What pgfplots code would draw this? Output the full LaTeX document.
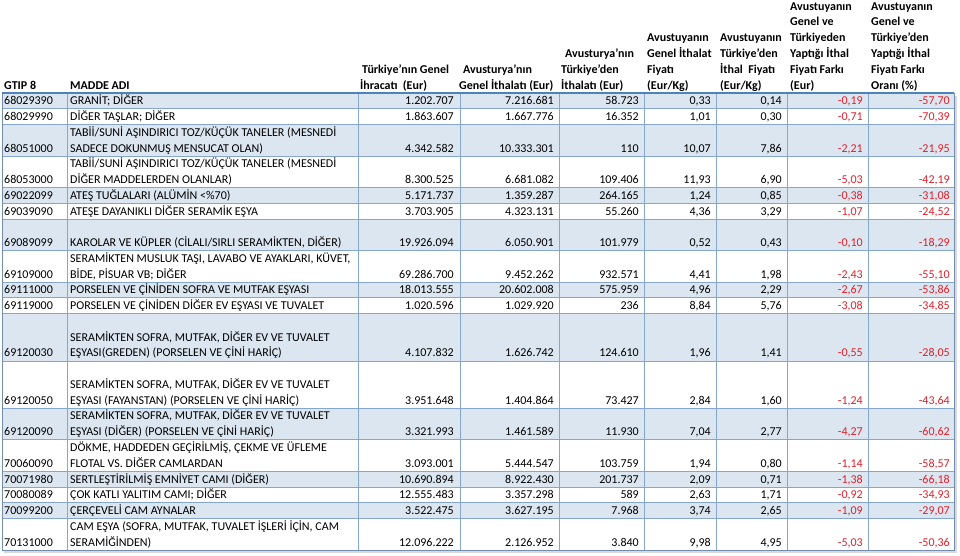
\documentclass[border=0pt]{standalone}
\usepackage{pgfplots}
\pgfplotsset{compat=1.18}
\usepackage{pgfplotstable}
\usepackage{fontspec}
\setmainfont{Carlito}
\definecolor{rowblue}{HTML}{DCE6F1}
\definecolor{gridblue}{HTML}{85A6CF}
\definecolor{hdrblue}{HTML}{4F81BD}
\definecolor{negred}{HTML}{E0202A}

\pgfplotstableread{
yb code name c3 c4 c5 c6 c7 c8 c9
104.8 68029390 {{GRANİT; DİĞER}} {{1.202.707}} {{7.216.681}} {{58.723}} {{0,33}} {{0,14}} {{-0,19}} {{-57,70}}
120.5 68029990 {{DİĞER TAŞLAR; DİĞER}} {{1.863.607}} {{1.667.776}} {{16.352}} {{1,01}} {{0,30}} {{-0,71}} {{-70,39}}
152.0 68051000 {{SADECE DOKUNMUŞ MENSUCAT OLAN)}} {{4.342.582}} {{10.333.301}} {{110}} {{10,07}} {{7,86}} {{-2,21}} {{-21,95}}
183.5 68053000 {{DİĞER MADDELERDEN OLANLAR)}} {{8.300.525}} {{6.681.082}} {{109.406}} {{11,93}} {{6,90}} {{-5,03}} {{-42,19}}
199.3 69022099 {{ATEŞ TUĞLALARI (ALÜMİN <\%70)}} {{5.171.737}} {{1.359.287}} {{264.165}} {{1,24}} {{0,85}} {{-0,38}} {{-31,08}}
215.1 69039090 {{ATEŞE DAYANIKLI DİĞER SERAMİK EŞYA}} {{3.703.905}} {{4.323.131}} {{55.260}} {{4,36}} {{3,29}} {{-1,07}} {{-24,52}}
246.6 69089099 {{KAROLAR VE KÜPLER (CİLALI/SIRLI SERAMİKTEN, DİĞER)}} {{19.926.094}} {{6.050.901}} {{101.979}} {{0,52}} {{0,43}} {{-0,10}} {{-18,29}}
278.1 69109000 {{BİDE, PİSUAR VB; DİĞER}} {{69.286.700}} {{9.452.262}} {{932.571}} {{4,41}} {{1,98}} {{-2,43}} {{-55,10}}
293.9 69111000 {{PORSELEN VE ÇİNİDEN SOFRA VE MUTFAK EŞYASI}} {{18.013.555}} {{20.602.008}} {{575.959}} {{4,96}} {{2,29}} {{-2,67}} {{-53,86}}
309.6 69119000 {{PORSELEN VE ÇİNİDEN DİĞER EV EŞYASI VE TUVALET}} {{1.020.596}} {{1.029.920}} {{236}} {{8,84}} {{5,76}} {{-3,08}} {{-34,85}}
356.9 69120030 {{EŞYASI(GREDEN) (PORSELEN VE ÇİNİ HARİÇ)}} {{4.107.832}} {{1.626.742}} {{124.610}} {{1,96}} {{1,41}} {{-0,55}} {{-28,05}}
404.2 69120050 {{EŞYASI (FAYANSTAN) (PORSELEN VE ÇİNİ HARİÇ)}} {{3.951.648}} {{1.404.864}} {{73.427}} {{2,84}} {{1,60}} {{-1,24}} {{-43,64}}
435.7 69120090 {{EŞYASI (DİĞER) (PORSELEN VE ÇİNİ HARİÇ)}} {{3.321.993}} {{1.461.589}} {{11.930}} {{7,04}} {{2,77}} {{-4,27}} {{-60,62}}
467.2 70060090 {{FLOTAL VS. DİĞER CAMLARDAN}} {{3.093.001}} {{5.444.547}} {{103.759}} {{1,94}} {{0,80}} {{-1,14}} {{-58,57}}
483.0 70071980 {{SERTLEŞTİRİLMİŞ EMNİYET CAMI (DİĞER)}} {{10.690.894}} {{8.922.430}} {{201.737}} {{2,09}} {{0,71}} {{-1,38}} {{-66,18}}
498.7 70080089 {{ÇOK KATLI YALITIM CAMI; DİĞER}} {{12.555.483}} {{3.357.298}} {{589}} {{2,63}} {{1,71}} {{-0,92}} {{-34,93}}
514.5 70099200 {{ÇERÇEVELİ CAM AYNALAR}} {{3.522.475}} {{3.627.195}} {{7.968}} {{3,74}} {{2,65}} {{-1,09}} {{-29,07}}
546.0 70131000 {{SERAMİĞİNDEN)}} {{12.096.222}} {{2.126.952}} {{3.840}} {{9,98}} {{4,95}} {{-5,03}} {{-50,36}}
}\rows

\pgfplotstableread{
yb name
136.3 {{TABİİ/SUNİ AŞINDIRICI TOZ/KÜÇÜK TANELER (MESNEDİ}}
167.8 {{TABİİ/SUNİ AŞINDIRICI TOZ/KÜÇÜK TANELER (MESNEDİ}}
262.3 {{SERAMİKTEN MUSLUK TAŞI, LAVABO VE AYAKLARI, KÜVET,}}
341.1 {{SERAMİKTEN SOFRA, MUTFAK, DİĞER EV VE TUVALET}}
388.4 {{SERAMİKTEN SOFRA, MUTFAK, DİĞER EV VE TUVALET}}
419.9 {{SERAMİKTEN SOFRA, MUTFAK, DİĞER EV VE TUVALET}}
451.4 {{DÖKME, HADDEDEN GEÇİRİLMİŞ, ÇEKME VE ÜFLEME}}
530.2 {{CAM EŞYA (SOFRA, MUTFAK, TUVALET İŞLERİ İÇİN, CAM}}
}\upper

\newcommand{\tfont}{\fontsize{12}{14}\selectfont}
\tikzset{hdr/.style={anchor=base west, inner sep=0pt, font=\tfont\bfseries}}
\pgfplotsset{
  txt/.style={draw=none, mark=none, nodes near coords, point meta=explicit symbolic,
    every node near coord/.append style={anchor=base #1, inner sep=0pt, font=\tfont, text=black}},
  neg/.style={draw=none, mark=none, nodes near coords, point meta=explicit symbolic,
    every node near coord/.append style={anchor=base east, inner sep=0pt, font=\tfont, text=negred}},
}

\begin{document}
\begin{tikzpicture}
\begin{axis}[
  scale only axis, width=960pt, height=555pt,
  xmin=0, xmax=960, ymin=0, ymax=555, y dir=reverse,
  hide axis, clip=false,
]
% row shading
\fill[rowblue] (axis cs:2,93) rectangle (axis cs:954,108.76);
\fill[rowblue] (axis cs:2,124.52) rectangle (axis cs:954,156.03);
\fill[rowblue] (axis cs:2,187.55) rectangle (axis cs:954,203.31);
\fill[rowblue] (axis cs:2,219.07) rectangle (axis cs:954,250.59);
\fill[rowblue] (axis cs:2,282.1) rectangle (axis cs:954,297.86);
\fill[rowblue] (axis cs:2,313.62) rectangle (axis cs:954,360.9);
\fill[rowblue] (axis cs:2,408.17) rectangle (axis cs:954,439.69);
\fill[rowblue] (axis cs:2,471.2) rectangle (axis cs:954,486.97);
\fill[rowblue] (axis cs:2,502.73) rectangle (axis cs:954,518.48);
% grid
\pgfplotsinvokeforeach{108.76,124.52,156.03,187.55,203.31,219.07,250.59,282.1,297.86,313.62,360.9,408.17,439.69,471.2,486.97,502.73,518.48}{
  \draw[gridblue, line width=0.8pt] (axis cs:2,#1) -- (axis cs:954,#1);
}
\pgfplotsinvokeforeach{67,358,460,559,644,716,787,868}{
  \draw[gridblue, line width=0.8pt] (axis cs:#1,93) -- (axis cs:#1,550);
}
\draw[black!15, line width=2.5pt] (axis cs:956,96) -- (axis cs:956,552) -- (axis cs:4,552);
\draw[gridblue!85!black, line width=1pt] (axis cs:2,93) -- (axis cs:2,550) -- (axis cs:954,550) -- (axis cs:954,93);
\draw[hdrblue, line width=1.2pt] (axis cs:2,93) -- (axis cs:954,93);

% header
\node[hdr] at (axis cs:4,89) {GTIP 8};
\node[hdr] at (axis cs:70,89) {MADDE ADI};
\node[hdr] at (axis cs:362,73.2) {Türkiye'nın Genel};
\node[hdr] at (axis cs:360,89) {İhracatı\ \ (Eur)};
\node[hdr] at (axis cs:463,73.2) {Avusturya'nın};
\node[hdr] at (axis cs:459,89) {Genel İthalatı (Eur)};
\node[hdr] at (axis cs:565,57.4) {Avusturya'nın};
\node[hdr] at (axis cs:561,73.2) {Türkiye'den};
\node[hdr] at (axis cs:561,89) {İthalatı (Eur)};
\node[hdr] at (axis cs:647,41.7) {Avustuyanın};
\node[hdr] at (axis cs:647,57.4) {Genel İthalat};
\node[hdr] at (axis cs:647,73.2) {Fiyatı};
\node[hdr] at (axis cs:647,89) {(Eur/Kg)};
\node[hdr] at (axis cs:720,41.7) {Avustuyanın};
\node[hdr] at (axis cs:720,57.4) {Türkiye'den};
\node[hdr] at (axis cs:720,73.2) {İthal\ \ Fiyatı};
\node[hdr] at (axis cs:720,89) {(Eur/Kg)};
\node[hdr] at (axis cs:790,10.2) {Avustuyanın};
\node[hdr] at (axis cs:790,25.9) {Genel ve};
\node[hdr] at (axis cs:790,41.7) {Türkiyeden};
\node[hdr] at (axis cs:790,57.4) {Yaptığı İthal};
\node[hdr] at (axis cs:790,73.2) {Fiyatı Farkı};
\node[hdr] at (axis cs:790,89) {(Eur)};
\node[hdr] at (axis cs:871,10.2) {Avustuyanın};
\node[hdr] at (axis cs:871,25.9) {Genel ve};
\node[hdr] at (axis cs:871,41.7) {Türkiye'den};
\node[hdr] at (axis cs:871,57.4) {Yaptığı İthal};
\node[hdr] at (axis cs:871,73.2) {Fiyatı Farkı};
\node[hdr] at (axis cs:871,89) {Oranı (\%)};

% body
\addplot[txt=west] table[x expr=4, y=yb, meta=code] {\rows};
\addplot[txt=west] table[x expr=70, y=yb, meta=name] {\rows};
\addplot[txt=west] table[x expr=70, y=yb, meta=name] {\upper};
\addplot[txt=east] table[x expr=454, y=yb, meta=c3] {\rows};
\addplot[txt=east] table[x expr=554, y=yb, meta=c4] {\rows};
\addplot[txt=east] table[x expr=639, y=yb, meta=c5] {\rows};
\addplot[txt=east] table[x expr=711, y=yb, meta=c6] {\rows};
\addplot[txt=east] table[x expr=782, y=yb, meta=c7] {\rows};
\addplot[neg] table[x expr=863, y=yb, meta=c8] {\rows};
\addplot[neg] table[x expr=950, y=yb, meta=c9] {\rows};
\end{axis}
\pgfresetboundingbox
\path (current axis.south west) rectangle (current axis.north east);
\end{tikzpicture}
\end{document}
